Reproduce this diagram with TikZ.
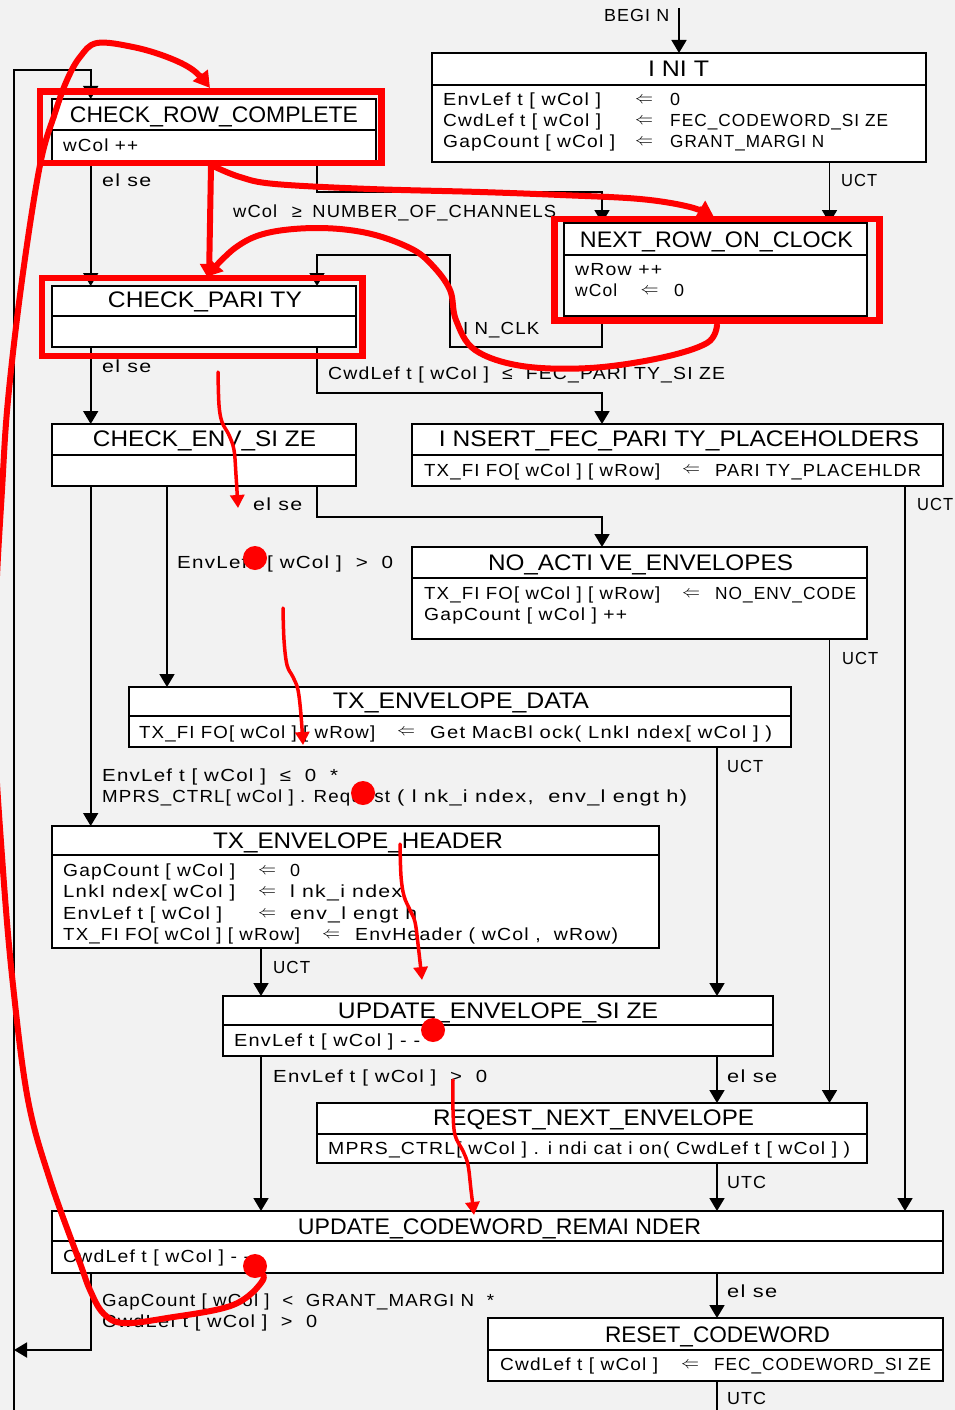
\documentclass[tikz,border=0pt]{standalone}
\usepackage{fontspec}
\setmainfont{Liberation Sans}
\newfontfamily\spacedface[LetterSpace=6]{Liberation Sans}
\usepackage{graphicx}
\usetikzlibrary{arrows.meta}

\definecolor{paper}{HTML}{F2F2F2}
\definecolor{markred}{HTML}{FF0000}

% text squeezed or stretched to a fixed width, height kept
\newcommand\fw[2]{\resizebox{#1pt}{\height}{#2}}
\newcommand\ttlfont{\fontsize{22.5}{24}\selectfont}
\newcommand\bdyfont{\spacedface\fontsize{17.5}{19}\selectfont}
\newcommand\lblfont{\spacedface\fontsize{17.5}{18}\selectfont}

\tikzset{
  partbox/.style={draw=black, line width=1.8pt, fill=white, rectangle, inner sep=0pt, outer sep=0pt},
  ttext/.style={anchor=base, inner sep=0pt, font=\ttlfont},
  btext/.style={anchor=base west, inner sep=0pt, font=\bdyfont},
  bsym/.style={anchor=center, inner sep=0pt, font=\fontsize{19}{19}\selectfont},
  ltext/.style={anchor=base west, inner sep=0pt, font=\lblfont},
  conn/.style={draw=black, line width=1.8pt, -{Triangle[length=13pt,width=15pt]}},
  bareconn/.style={draw=black, line width=1.8pt},
  redbox/.style={draw=markred, line width=6.5pt, line join=miter},
  redthick/.style={draw=markred, line width=6pt, line cap=round, line join=round, -{Triangle[length=16pt,width=18pt]}},
  redthin/.style={draw=markred, line width=3.5pt, line cap=round, line join=round, -{Triangle[length=13pt,width=14pt]}},
  reddot/.style={fill=markred},
}

% state: name, left, right, top, separator, bottom
\newcommand\statebox[6]{%
  \node[partbox, minimum width={#3-#2}, minimum height={#5-#4}] (#1-t) at ({(#2+#3)/2},{(#4+#5)/2}) {};
  \node[partbox, minimum width={#3-#2}, minimum height={#6-#5}] (#1-b) at ({(#2+#3)/2},{(#5+#6)/2}) {};}
\newcommand\stitle[5]{\node[ttext] (#1-name) at (#2,#3) {\fw{#4}{#5}};}
\newcommand\btext[5]{\node[btext] (#1) at (#2,#3) {\fw{#4}{#5}};}
\newcommand\barrow[3]{\node[bsym] (#1) at (#2,#3) {\fw{18}{$\Leftarrow$}};}
\newcommand\ltext[5]{\node[ltext] (#1) at (#2,#3) {\fw{#4}{#5}};}

\begin{document}
\begin{tikzpicture}[x=1pt,y=-1pt]
\useasboundingbox (0,0) rectangle (955,1410);
\fill[paper] (0,0) rectangle (955,1410);

% ---- states ----
\statebox{init}{432}{926}{53}{85}{162}
\statebox{crc}{52}{376}{99}{130}{161}
\statebox{nroc}{564}{867}{223}{255}{316}
\statebox{cp}{52}{356}{286}{316}{347}
\statebox{ces}{52}{356}{424}{455}{486}
\statebox{ifp}{412}{943}{424}{455}{486}
\statebox{nae}{412}{867}{547}{578}{639}
\statebox{ted}{129}{791}{687}{716}{747}
\statebox{teh}{52}{659}{826}{855}{948}
\statebox{ues}{223}{773}{996}{1025}{1056}
\statebox{rne}{317}{867}{1103}{1134}{1163}
\statebox{ucr}{52}{943}{1211}{1241}{1273}
\statebox{rc}{488}{943}{1318}{1350}{1381}

\stitle{init}{678.5}{76.4}{61}{I NI T}
\stitle{crc}{214}{122.4}{288}{CHECK\_ROW\_COMPLETE}
\stitle{nroc}{716.5}{247.4}{273}{NEXT\_ROW\_ON\_CLOCK}
\stitle{cp}{205}{307.4}{194}{CHECK\_PARI TY}
\stitle{ces}{204.5}{446.4}{223}{CHECK\_ENV\_SI ZE}
\stitle{ifp}{679}{446.4}{480}{I NSERT\_FEC\_PARI TY\_PLACEHOLDERS}
\stitle{nae}{640.5}{570.4}{305}{NO\_ACTI VE\_ENVELOPES}
\stitle{ted}{461}{708.4}{256}{TX\_ENVELOPE\_DATA}
\stitle{teh}{358}{848.4}{290}{TX\_ENVELOPE\_HEADER}
\stitle{ues}{498}{1018.4}{320}{UPDATE\_ENVELOPE\_SI ZE}
\stitle{rne}{593.5}{1125.4}{321}{REQEST\_NEXT\_ENVELOPE}
\stitle{ucr}{499.5}{1234.4}{403}{UPDATE\_CODEWORD\_REMAI NDER}
\stitle{rc}{717.5}{1342.4}{225}{RESET\_CODEWORD}

% ---- state actions ----
\btext{init-l1}{443}{105.6}{158}{EnvLef t [ wCol ]}
\barrow{init-a1}{644}{100.3}
\btext{init-v1}{670}{105.6}{10}{0}
\btext{init-l2}{443}{126.3}{158}{CwdLef t [ wCol ]}
\barrow{init-a2}{644}{121}
\btext{init-v2}{670}{126.3}{218}{FEC\_CODEWORD\_SI ZE}
\btext{init-l3}{443}{147.3}{172}{GapCount [ wCol ]}
\barrow{init-a3}{644}{142}
\btext{init-v3}{670}{147.3}{154}{GRANT\_MARGI N}

\btext{crc-l1}{63}{151.3}{75}{wCol ++}

\btext{nroc-l1}{575}{275.3}{87}{wRow ++}
\btext{nroc-l2}{575}{296.3}{42}{wCol}
\barrow{nroc-a2}{649.5}{291}
\btext{nroc-v2}{674}{296.3}{10}{0}

\btext{ifp-l1}{424}{476}{236}{TX\_FI FO[ wCol ] [ wRow]}
\barrow{ifp-a1}{691}{470.7}
\btext{ifp-v1}{715}{476}{206}{PARI TY\_PLACEHLDR}

\btext{nae-l1}{424}{599.6}{236}{TX\_FI FO[ wCol ] [ wRow]}
\barrow{nae-a1}{691}{594.3}
\btext{nae-v1}{715}{599.6}{141}{NO\_ENV\_CODE}
\btext{nae-l2}{424}{620.3}{203}{GapCount [ wCol ] ++}

\btext{ted-l1}{139}{738}{236}{TX\_FI FO[ wCol ] [ wRow]}
\barrow{ted-a1}{406}{732.7}
\btext{ted-v1}{430}{738}{342}{Get MacBl ock( LnkI ndex[ wCol ] )}

\btext{teh-l1}{63}{876.3}{172}{GapCount [ wCol ]}
\barrow{teh-a1}{267}{871}
\btext{teh-v1}{290}{876.3}{10}{0}
\btext{teh-l2}{63}{897.8}{172}{LnkI ndex[ wCol ]}
\barrow{teh-a2}{267}{892.5}
\btext{teh-v2}{290}{897.8}{112}{l nk\_i ndex}
\btext{teh-l3}{63}{919.3}{159}{EnvLef t [ wCol ]}
\barrow{teh-a3}{267}{914}
\btext{teh-v3}{290}{919.3}{127}{env\_l engt h}
\btext{teh-l4}{63}{940.3}{237}{TX\_FI FO[ wCol ] [ wRow]}
\barrow{teh-a4}{331}{935}
\btext{teh-v4}{355}{940.3}{263}{EnvHeader ( wCol ,\ \ wRow)}

\btext{ues-l1}{234}{1046.3}{186}{EnvLef t [ wCol ] - -}
\btext{rne-l1}{328}{1154.3}{522}{MPRS\_CTRL[ wCol ] . i ndi cat i on( CwdLef t [ wCol ] )}
\btext{ucr-l1}{63}{1262.7}{187}{CwdLef t [ wCol ] - -}
\btext{rc-l1}{500}{1370.7}{158}{CwdLef t [ wCol ]}
\barrow{rc-a1}{690}{1365.4}
\btext{rc-v1}{714}{1370.7}{217}{FEC\_CODEWORD\_SI ZE}

% ---- column guides for the transitions ----
\coordinate (xA) at (90.7,0);
\coordinate (xB) at (167,0);
\coordinate (xC) at (317,0);
\coordinate (xD) at (602,0);
\coordinate (xE) at (717,0);
\coordinate (xF) at (829.5,0);
\coordinate (xG) at (905,0);
\coordinate (xH) at (261,0);
\coordinate (xK) at (450,0);
\coordinate (beginpt) at (679,8);
\coordinate (looptop) at (14,70);
\coordinate (loopbot) at (14,1410);
\coordinate (loopjoin) at (14,1350);
\coordinate (rcout) at (717,1410);

% ---- transitions ----
\draw[conn] (beginpt) -- (init-t.north -| beginpt);
\draw[conn] (init-b.south -| xF) -- (nroc-t.north -| xF);
\draw[conn] (loopbot) -- (looptop) -| (crc-t.north -| xA);
\draw[conn] (crc-b.south -| xA) -- (cp-t.north -| xA);
\draw[conn] (crc-b.south -| xC) -- ++(0,31) -| (nroc-t.north -| xD);
\draw[conn] (nroc-b.south -| xD) |- (cp-b.south -| xK) -- (nroc-t.south -| xK) -| (cp-t.north -| xC);
\draw[conn] (cp-b.south -| xA) -- (ces-t.north -| xA);
\draw[conn] (cp-b.south -| xC) -- ++(0,46) -| (ifp-t.north -| xD);
\draw[conn] (ces-b.south -| xA) -- (teh-t.north -| xA);
\draw[conn] (ces-b.south -| xB) -- (ted-t.north -| xB);
\draw[conn] (ces-b.south -| xC) -- ++(0,31) -| (nae-t.north -| xD);
\draw[conn] (ifp-b.south -| xG) -- (ucr-t.north -| xG);
\draw[conn] (nae-b.south -| xF) -- (rne-t.north -| xF);
\draw[conn] (ted-b.south -| xE) -- (ues-t.north -| xE);
\draw[conn] (teh-b.south -| xH) -- (ues-t.north -| xH);
\draw[conn] (ues-b.south -| xH) -- (ucr-t.north -| xH);
\draw[conn] (ues-b.south -| xE) -- (rne-t.north -| xE);
\draw[conn] (rne-b.south -| xE) -- (ucr-t.north -| xE);
\draw[conn] (ucr-b.south -| xE) -- (rc-t.north -| xE);
\draw[conn] (ucr-b.south -| xA) |- (loopjoin);
\draw[bareconn] (rc-b.south -| xE) -- (rcout);

% ---- transition labels ----
\ltext{lbl-begin}{604}{21.3}{65}{BEGI N}
\ltext{lbl-init}{841}{186.3}{36}{UCT}
\ltext{lbl-crc1}{102}{186.3}{49}{el se}
\ltext{lbl-crc2}{233}{217}{323}{wCol\hspace{14pt}≥\hspace{10pt}NUMBER\_OF\_CHANNELS}
\ltext{lbl-nroc}{463}{334.3}{76}{I N\_CLK}
\ltext{lbl-cp1}{102}{372}{49}{el se}
\ltext{lbl-cp2}{328}{379.3}{397}{CwdLef t [ wCol ]\ \ ≤\ \ FEC\_PARI TY\_SI ZE}
\ltext{lbl-ifp}{917}{510.3}{36}{UCT}
\ltext{lbl-ces1}{253}{510.3}{49}{el se}
\ltext{lbl-ces2}{177}{568.3}{216}{EnvLef t [ wCol ]\ \ >\ \ 0}
\ltext{lbl-nae}{842}{664}{36}{UCT}
\ltext{lbl-ted}{727}{772.3}{36}{UCT}
\ltext{lbl-ces3}{102}{781.3}{236}{EnvLef t [ wCol ]\ \ ≤\ \ 0\ \ *}
\ltext{lbl-ces4}{102}{802.3}{288}{MPRS\_CTRL[ wCol ] . Request}
\ltext{lbl-ces5}{397}{802.3}{290}{( l nk\_i ndex,\ \ env\_l engt h)}
\ltext{lbl-teh}{273}{973}{37}{UCT}
\ltext{lbl-ues1}{273}{1082.1}{214}{EnvLef t [ wCol ]\ \ >\ \ 0}
\ltext{lbl-ues2}{727}{1082.3}{50}{el se}
\ltext{lbl-rne}{727}{1188.6}{39}{UTC}
\ltext{lbl-ucr1}{727}{1297.3}{50}{el se}
\ltext{lbl-ucr2}{102}{1306}{392}{GapCount [ wCol ]\ \ <\ \ GRANT\_MARGI N\ \ *}
\ltext{lbl-ucr3}{102}{1327.3}{215}{CwdLef t [ wCol ]\ \ >\ \ 0}
\ltext{lbl-rc}{727}{1404.3}{39}{UTC}

% ---- red markup drawn over the chart ----
\begin{scope}
\clip (0,0) rectangle (955,1410);
\draw[redbox] (40,91.5) rectangle (381.5,163);
\draw[redbox] (42,278) rectangle (362.5,356);
\draw[redbox] (554.7,219) rectangle (879.5,320.5);

\draw[redthick] (211,166) -- (209,280);
\draw[redthick] plot[smooth, tension=0.6] coordinates {(213,166) (240,177) (275,184) (370,189) (480,192) (560,195) (640,199) (690,207) (714,217)};
\draw[redthick] plot[smooth, tension=0.6] coordinates {(717,325) (707,343) (660,358) (590,368) (522,366) (475,350) (456,320) (450,290) (432,265) (410,248) (367,233) (317,228) (267,233) (235,248) (206,277)};
\draw[redthick] plot[smooth, tension=0.6] coordinates {(256,1268) (263,1280) (233,1305) (167,1318) (123,1323) (103,1313) (90,1290) (80,1263) (50,1180) (28,1100) (13,985) (3,870) (-6,720) (-4,600) (2,490) (8,400) (22,280) (40,165) (55,113) (67,80) (80,57) (97,43) (133,47) (167,57) (193,70) (210,88)};

\draw[redthin] plot[smooth, tension=0.6] coordinates {(218,372) (219,405) (222,422) (229,435) (234,450) (236,475) (238,508)};
\draw[redthin] plot[smooth, tension=0.6] coordinates {(283,608) (284,640) (287,665) (293,677) (298,690) (301,715) (303,745)};
\draw[redthin] plot[smooth, tension=0.6] coordinates {(400,844) (401,876) (404,896) (410,910) (415,922) (418,944) (422,980)};
\draw[redthin] plot[smooth, tension=0.6] coordinates {(453,1080) (453,1110) (455,1135) (463,1151) (468,1165) (471,1190) (474,1215)};

\fill[reddot] (255,558) circle[radius=12pt];
\fill[reddot] (363,793) circle[radius=12pt];
\fill[reddot] (433,1030) circle[radius=12pt];
\fill[reddot] (255,1266) circle[radius=12pt];
\end{scope}
\end{tikzpicture}
\end{document}
